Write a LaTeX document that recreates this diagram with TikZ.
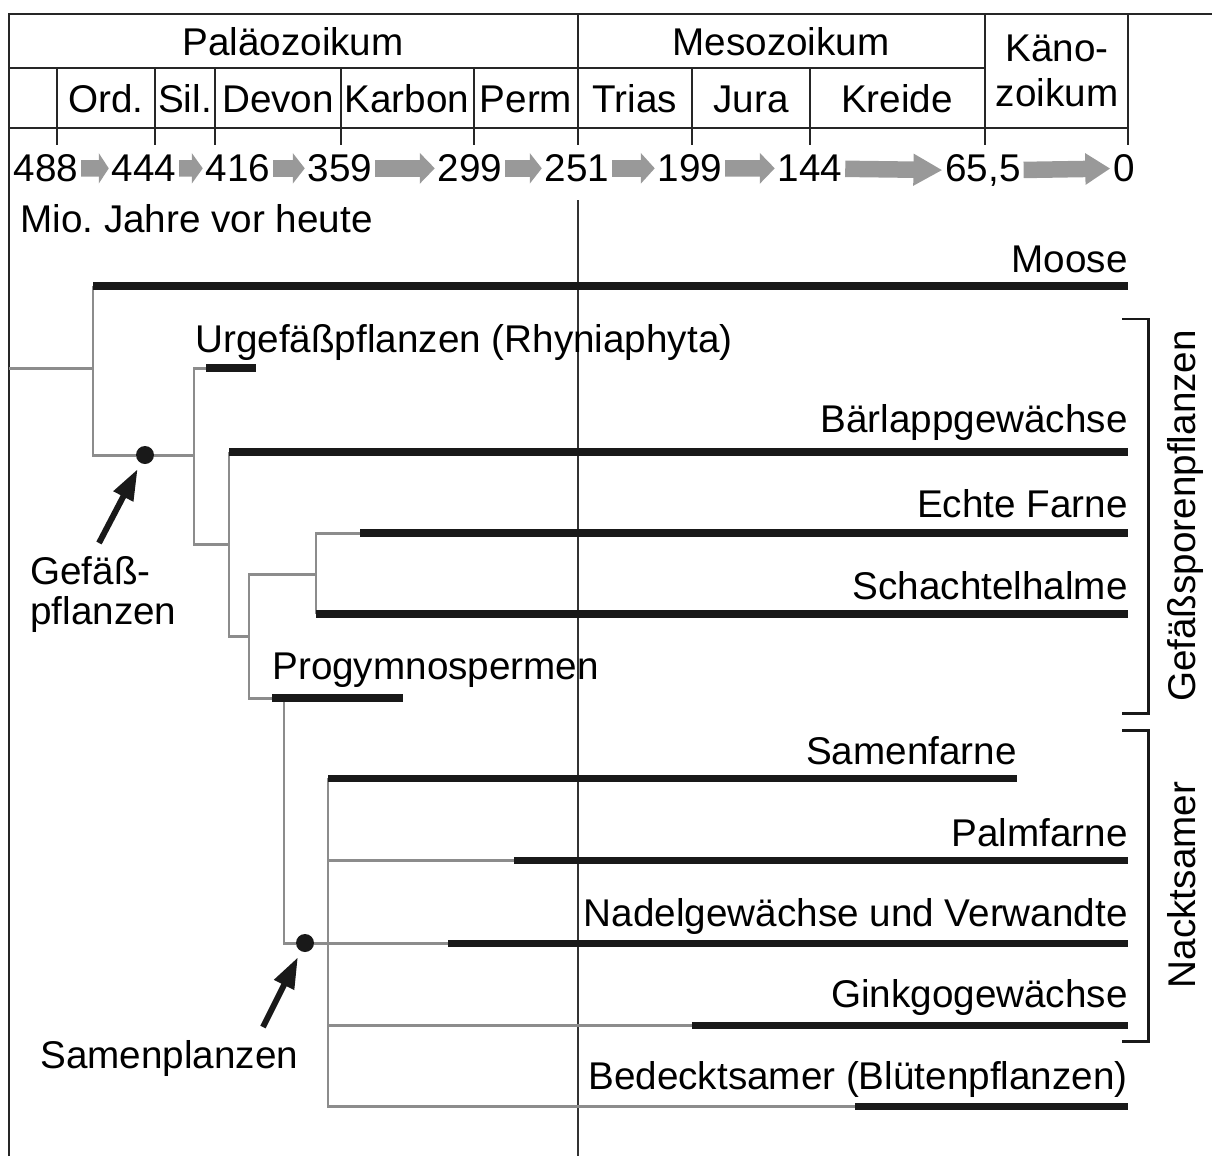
\documentclass[tikz,border=0pt]{standalone}
\usepackage{fontspec}
\setmainfont{Liberation Sans}
\usetikzlibrary{arrows.meta}

\begin{document}
\frenchspacing
\begin{tikzpicture}[
    x=0.02cm, y=-0.02cm,
    every node/.style={font=\fontsize{22}{24}\selectfont, inner sep=0pt},
    tbl/.style={line width=1.2pt, black!85},
    era/.style={anchor=base},
    yr/.style={anchor=mid},
    yrarrow/.style={
        -{Triangle[length=#1, width=0.6cm]},
        line width=0.33cm,
        black!40,
        shorten <=1.5pt,
        shorten >=1.5pt
    },
    bar/.style={line width=4pt, black!90},
    stem/.style={line width=1.7pt, black!45},
    knot/.style={circle, fill=black!90, minimum size=0.36cm},
    pointer/.style={line width=3.4pt, black!90, shorten >=0.13cm,
        -{Triangle[length=0.62cm, width=0.42cm]}},
    taxon/.style={anchor=base east},
    taxonl/.style={anchor=base west},
    brace/.style={line width=1.7pt, black!90},
    group/.style={anchor=base, rotate=90}
]
\useasboundingbox (0,0) rectangle (1212,1156);

% Table frame
\draw[tbl] (9,1156) -- (9,14) -- (1212,14);
\draw[tbl] (9,68) -- (985,68);
\draw[tbl] (9,128) -- (1128,128);
\draw[tbl] (578,14) -- (578,145);
\draw[tbl] (985,14) -- (985,145);
\draw[tbl] (1128,14) -- (1128,145);
\draw[tbl] (57,68) -- (57,145);
\draw[tbl] (155,68) -- (155,145);
\draw[tbl] (215,68) -- (215,145);
\draw[tbl] (341,68) -- (341,145);
\draw[tbl] (474,68) -- (474,145);
\draw[tbl] (692,68) -- (692,145);
\draw[tbl] (810,68) -- (810,145);

% Eras
\node[era] (palaeo) at (293,55) {Paläozoikum};
\node[era] (meso)   at (781,55) {Mesozoikum};
\node[align=center, font=\fontsize{22}{25.6}\selectfont] (kaeno) at (1057,71) {Käno-\\zoikum};

% Periods
\node[era] (ord)    at (106,112) {Ord.};
\node[era] (sil)    at (185,112) {Sil.};
\node[era] (devon)  at (278,112) {Devon};
\node[era] (karbon) at (407,112) {Karbon};
\node[era] (perm)   at (526,112) {Perm};
\node[era] (trias)  at (635,112) {Trias};
\node[era] (jura)   at (751,112) {Jura};
\node[era] (kreide) at (897,112) {Kreide};

% Ages (Mio. years)
\node[yr] (t488) at (46,177)   {488};
\node[yr] (t444) at (144,177)  {444};
\node[yr] (t416) at (238,177)  {416};
\node[yr] (t359) at (340,177)  {359};
\node[yr] (t299) at (470,177)  {299};
\node[yr] (t251) at (577,177)  {251};
\node[yr] (t199) at (690,177)  {199};
\node[yr] (t144) at (810,177)  {144};
\node[yr] (t65)  at (983,177)  {65,5};
\node[yr] (t0)   at (1124,177) {0};

\draw[yrarrow=0.2cm]  (t488) -- (t444);
\draw[yrarrow=0.22cm] (t444) -- (t416);
\draw[yrarrow=0.24cm] (t416) -- (t359);
\draw[yrarrow=0.3cm]  (t359) -- (t299);
\draw[yrarrow=0.24cm] (t299) -- (t251);
\draw[yrarrow=0.28cm] (t251) -- (t199);
\draw[yrarrow=0.3cm]  (t199) -- (t144);
\draw[yrarrow=0.58cm] (t144) -- (t65);
\draw[yrarrow=0.5cm]  (t65)  -- (t0);

\node[anchor=base west] (unit) at (20,232) {Mio. Jahre vor heute};

% Permian/Triassic boundary
\draw[line width=1.1pt, black!80] (578,200) -- (578,1156);

% Branch points
\coordinate (root)      at (9,368);
\coordinate (urg-s)     at (194,368);
\coordinate (fork0)     at (229,544);
\coordinate (fork1)     at (249,636);
\coordinate (fork2)     at (316,574);
\coordinate (prog-s)    at (284,698);
\node[knot] (gefaess)   at (145,455) {};
\node[knot] (samen)     at (305,943) {};

% Lineages (start -a, end -b)
\coordinate (moose-a)   at (93,286);   \coordinate (moose-b)   at (1128,286);
\coordinate (urg-a)     at (206,368);  \coordinate (urg-b)     at (256,368);
\coordinate (baer-a)    at (229,452);  \coordinate (baer-b)    at (1128,452);
\coordinate (farn-a)    at (360,533);  \coordinate (farn-b)    at (1128,533);
\coordinate (schacht-a) at (316,614);  \coordinate (schacht-b) at (1128,614);
\coordinate (prog-a)    at (272,698);  \coordinate (prog-b)    at (403,698);
\coordinate (sfarn-a)   at (328,778);  \coordinate (sfarn-b)   at (1017,778);
\coordinate (palm-a)    at (514,860);  \coordinate (palm-b)    at (1128,860);
\coordinate (nadel-a)   at (448,943);  \coordinate (nadel-b)   at (1128,943);
\coordinate (ginkgo-a)  at (692,1025); \coordinate (ginkgo-b)  at (1128,1025);
\coordinate (bedeckt-a) at (855,1106); \coordinate (bedeckt-b) at (1128,1106);

% Stems (grey)
\draw[stem] (root) -- (root -| moose-a);
\draw[stem] (moose-a) |- (gefaess);
\draw[stem] (gefaess) -- (gefaess -| urg-s);
\draw[stem] (urg-a) -- (urg-s) |- (fork0);
\draw[stem] (baer-a) |- (fork1);
\draw[stem] (fork2) -| (fork1);
\draw[stem] (fork1) |- (prog-a);
\draw[stem] (farn-a) -| (schacht-a);
\draw[stem] (prog-s) |- (samen);
\draw[stem] (samen) -- (nadel-a);
\draw[stem] (sfarn-a) |- (bedeckt-a);
\draw[stem] (sfarn-a |- palm-a) -- (palm-a);
\draw[stem] (sfarn-a |- ginkgo-a) -- (ginkgo-a);

% Ranges (black)
\draw[bar] (moose-a) -- (moose-b);
\draw[bar] (urg-a) -- (urg-b);
\draw[bar] (baer-a) -- (baer-b);
\draw[bar] (farn-a) -- (farn-b);
\draw[bar] (schacht-a) -- (schacht-b);
\draw[bar] (prog-a) -- (prog-b);
\draw[bar] (sfarn-a) -- (sfarn-b);
\draw[bar] (palm-a) -- (palm-b);
\draw[bar] (nadel-a) -- (nadel-b);
\draw[bar] (ginkgo-a) -- (ginkgo-b);
\draw[bar] (bedeckt-a) -- (bedeckt-b);

% Taxa
\node[taxon]  (moose)   at (1128,272)  {Moose};
\node[taxonl] (urg)     at (195,352)   {Urgefäßpflanzen (Rhyniaphyta)};
\node[taxon]  (baer)    at (1128,432)  {Bärlappgewächse};
\node[taxon]  (farn)    at (1128,517)  {Echte Farne};
\node[taxon]  (schacht) at (1128,599)  {Schachtelhalme};
\node[taxonl] (prog)    at (272,679)   {Progymnospermen};
\node[taxon]  (sfarn)   at (1017,764)  {Samenfarne};
\node[taxon]  (palm)    at (1128,846)  {Palmfarne};
\node[taxon]  (nadel)   at (1128,926)  {Nadelgewächse und Verwandte};
\node[taxon]  (ginkgo)  at (1128,1007) {Ginkgogewächse};
\node[taxon]  (bedeckt) at (1128,1089) {Bedecktsamer (Blütenpflanzen)};

% Pointers to the key nodes
\node[anchor=north west, align=left, font=\fontsize{22}{23}\selectfont] (gef-lbl) at (30,556) {Gefäß-\\pflanzen};
\coordinate (gef-tail) at (99,543);
\draw[pointer] (gef-tail) -- (gefaess);

\node[anchor=base west] (sam-lbl) at (40,1068) {Samenplanzen};
\coordinate (sam-tail) at (263,1027);
\draw[pointer] (sam-tail) -- (samen);

% Groups
\coordinate (sporen-t) at (1122,319);
\coordinate (sporen-b) at (1122,713);
\draw[brace] (sporen-t) -- ++(26,0) |- (sporen-b);
\node[group] (sporen) at (1195,516) {Gefäßsporenpflanzen};

\coordinate (nackt-t) at (1122,730);
\coordinate (nackt-b) at (1122,1041);
\draw[brace] (nackt-t) -- ++(26,0) |- (nackt-b);
\node[group] (nackt) at (1195,885) {Nacktsamer};

\end{tikzpicture}
\end{document}
